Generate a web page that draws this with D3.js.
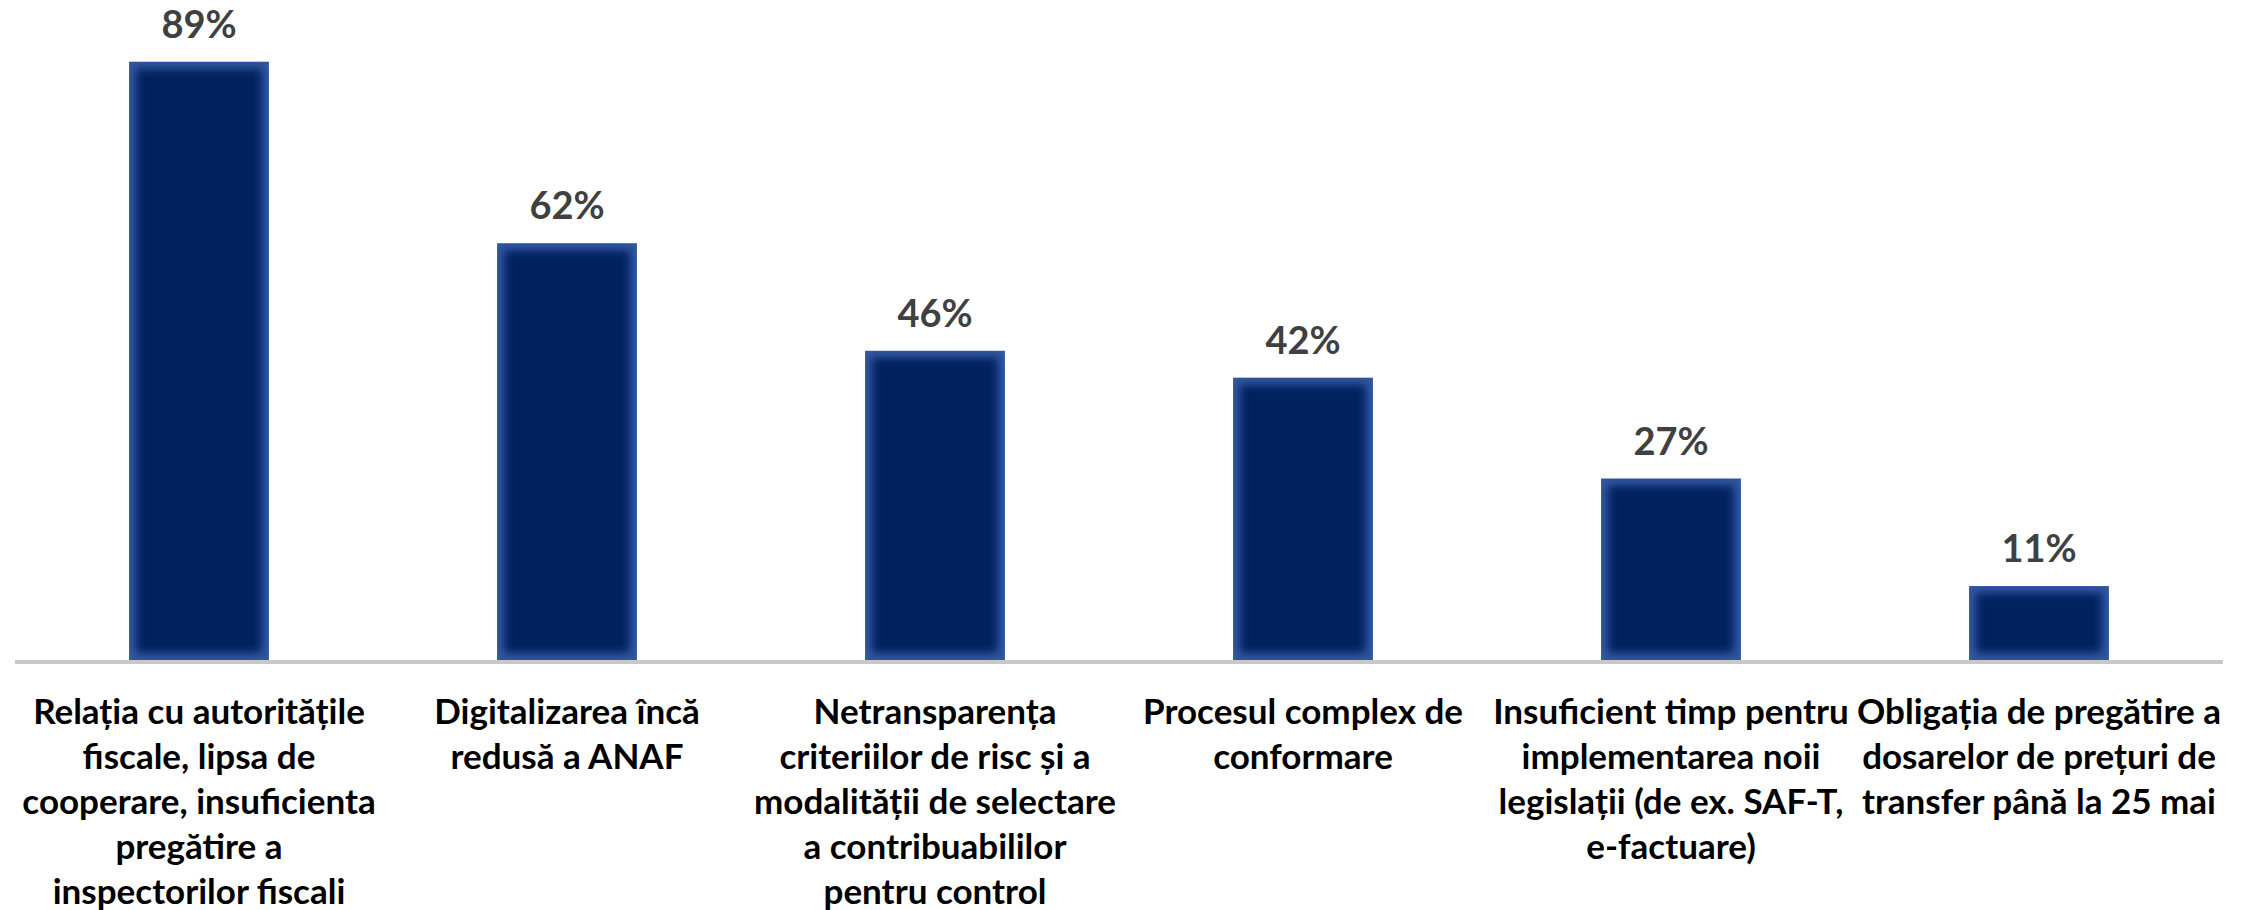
<!DOCTYPE html>
<html>
<head>
<meta charset="utf-8">
<script src="https://cdn.jsdelivr.net/npm/d3@7"></script>
<style>
  html, body { margin: 0; padding: 0; background: #ffffff; }
  svg { display: block; }
</style>
</head>
<body>
<div id="chart"></div>
<script>
// ---- Data ----
const categories = [
  "Relația cu autoritățile fiscale, lipsa de cooperare, insuficienta pregătire a inspectorilor fiscali",
  "Digitalizarea încă redusă a ANAF",
  "Netransparența criteriilor de risc și a modalității de selectare a contribuabililor pentru control",
  "Procesul complex de conformare",
  "Insuficient timp pentru implementarea noii legislații (de ex. SAF-T, e-factuare)",
  "Obligația de pregătire a dosarelor de prețuri de transfer până la 25 mai"
];
const categoryLines = [
  ["Relația cu autoritățile", "fiscale, lipsa de", "cooperare, insuficienta", "pregătire a", "inspectorilor fiscali"],
  ["Digitalizarea încă", "redusă a ANAF"],
  ["Netransparența", "criteriilor de risc și a", "modalității de selectare", "a contribuabililor", "pentru control"],
  ["Procesul complex de", "conformare"],
  ["Insuficient timp pentru", "implementarea noii", "legislații (de ex. SAF-T,", "e-factuare)"],
  ["Obligația de pregătire a", "dosarelor de prețuri de", "transfer până la 25 mai"]
];
const values = [89, 62, 46, 42, 27, 11];
const valueLabels = ["89%", "62%", "46%", "42%", "27%", "11%"];

// ---- Layout ----
const W = 2244, H = 910;
const svg = d3.select("#chart").append("svg").attr("width", W).attr("height", H);

const defs = svg.append("defs");
defs.append("filter").attr("id", "glow")
  .attr("x", "-20%").attr("y", "-20%").attr("width", "140%").attr("height", "140%")
  .append("feGaussianBlur").attr("stdDeviation", 4);

const x = d3.scaleBand().domain(categories).range([15, 2223]).paddingInner(0.62).paddingOuter(0.31);
const y = d3.scaleLinear().domain([0, 90]).range([660, 55]);

const FONT = "Lato, 'Open Sans', sans-serif";

// Bars
const bars = svg.append("g").selectAll("g").data(categories).join("g");
bars.each(function(c, i) {
  const g = d3.select(this);
  const bx = x(c), bw = x.bandwidth(), by = y(values[i]), bh = y(0) - y(values[i]);
  const cid = "clip" + i;
  defs.append("clipPath").attr("id", cid).append("rect")
    .attr("x", bx).attr("y", by).attr("width", bw).attr("height", bh);
  g.append("rect").attr("x", bx).attr("y", by).attr("width", bw).attr("height", bh)
    .attr("fill", "#3158a0");
  g.append("g").attr("clip-path", `url(#${cid})`)
    .append("rect").attr("x", bx + 7).attr("y", by + 7)
    .attr("width", Math.max(0, bw - 14)).attr("height", Math.max(0, bh - 14))
    .attr("fill", "#03205e").attr("filter", "url(#glow)");
});

// Axis
const axis = svg.append("g").attr("transform", `translate(0,${y(0)})`)
  .call(d3.axisBottom(x).tickSize(0).tickFormat(""));
axis.select(".domain").attr("stroke", "#c8c8c8").attr("stroke-width", 4)
  .attr("d", `M15,2H2223`);

// Category labels
axis.selectAll(".tick text").remove();
axis.selectAll(".tick").each(function(c, i) {
  const t = d3.select(this).append("text")
    .attr("text-anchor", "middle")
    .attr("fill", "#000000")
    .attr("font-family", FONT)
    .attr("font-weight", "bold")
    .attr("font-size", 35)
    .attr("y", 64);
  categoryLines[i].forEach((ln, k) => {
    t.append("tspan").attr("x", 0).attr("dy", k === 0 ? 0 : 45).text(ln);
  });
});

// Value labels
svg.append("g").selectAll("text").data(categories).join("text")
  .attr("x", d => x(d) + x.bandwidth() / 2)
  .attr("y", (d, i) => y(values[i]) - 24)
  .attr("text-anchor", "middle")
  .attr("fill", "#404040")
  .attr("font-family", FONT)
  .attr("font-weight", "bold")
  .attr("font-size", 38)
  .text((d, i) => valueLabels[i]);
</script>
</body>
</html>
